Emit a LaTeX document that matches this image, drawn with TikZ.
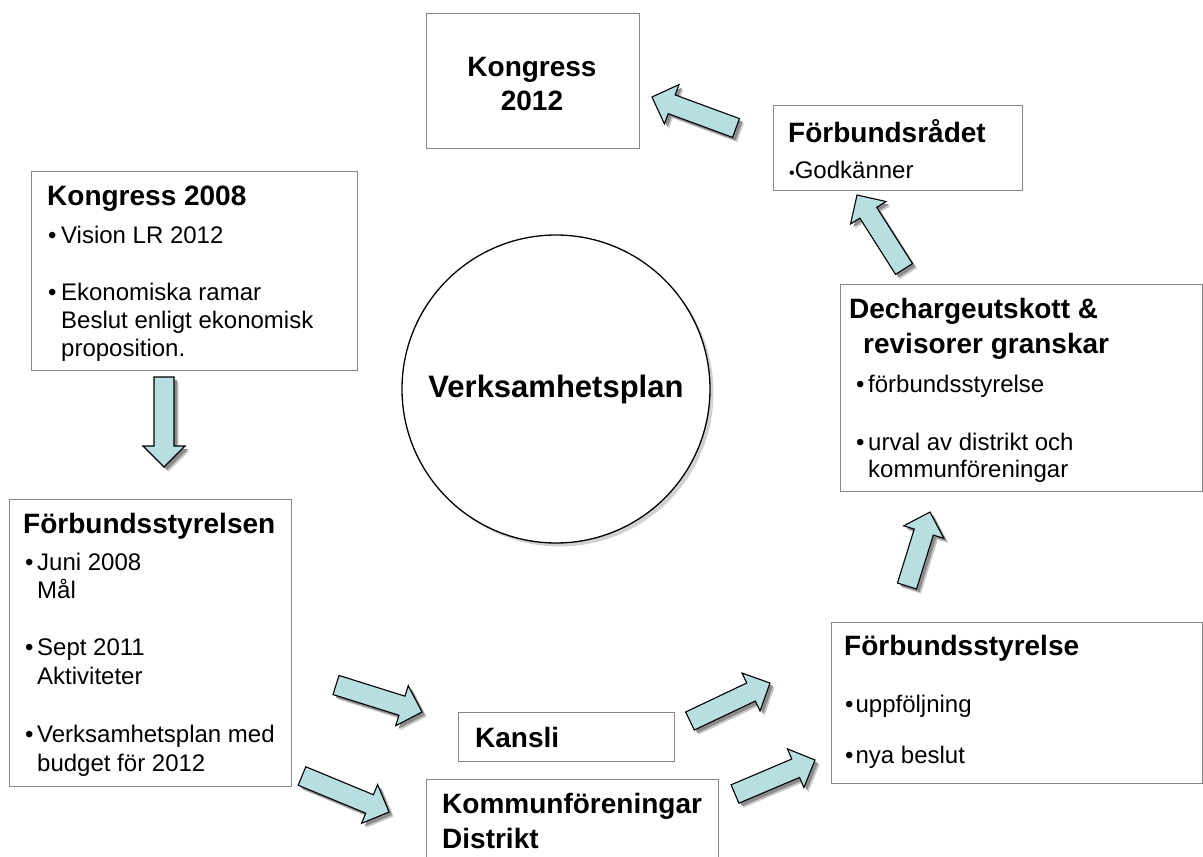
\documentclass[tikz,border=0pt]{standalone}
\usepackage{fontspec}
\setmainfont{Liberation Sans}
\usetikzlibrary{calc}
\definecolor{boxgray}{RGB}{134,134,134}
\definecolor{arrowfill}{RGB}{183,223,226}
\tikzset{
  box/.style={draw=boxgray, line width=1.3pt, inner sep=0pt, anchor=north west},
  ttl/.style={font=\fontsize{28}{33}\selectfont\bfseries, inner sep=0pt, anchor=base west},
  txt/.style={font=\fontsize{24}{29}\selectfont, inner sep=0pt, anchor=base west},
  fatline/.style={draw=black, line width=1.1pt, fill=arrowfill, line join=miter},
  fatshadow/.style={fill=black!45},
  fatshadowsoft/.style={fill=black!22},
}
% block arrow from tail centre #1 to tip #2
\newcommand\fatpoly{(0,-10) -- ({\fatlen-21},-10) -- ({\fatlen-21},-21) -- (\fatlen,0)
  -- ({\fatlen-21},21) -- ({\fatlen-21},10) -- (0,10) -- cycle}
\newcommand\fatarrow[2]{%
  \path let \p1=($(#2)-(#1)$), \n1={atan2(\y1,\x1)}, \n2={veclen(\x1,\y1)} in
    \pgfextra{\xdef\fatang{\n1}\xdef\fatlen{\n2}};
  \begin{scope}[shift={($(#1)+(4.5pt,-4.5pt)$)}, rotate=\fatang]
    \path[fatshadowsoft] \fatpoly;
  \end{scope}
  \begin{scope}[shift={($(#1)+(3pt,-3pt)$)}, rotate=\fatang]
    \path[fatshadow] \fatpoly;
  \end{scope}
  \begin{scope}[shift={(#1)}, rotate=\fatang]
    \path[fatline] \fatpoly;
  \end{scope}}
\begin{document}
\begin{tikzpicture}[x=1pt, y=-1pt]
\useasboundingbox (0,0) rectangle (1203,857);
\clip (0,0) rectangle (1203,857);

% boxes
\node[box, minimum width=213pt, minimum height=135pt] (k2012) at (426,13) {};
\node[box, minimum width=249pt, minimum height=85pt] (frad) at (773,105) {};
\node[box, minimum width=326pt, minimum height=199pt] (k2008) at (31,171) {};
\node[box, minimum width=362pt, minimum height=207pt] (dech) at (840,284) {};
\node[box, minimum width=282pt, minimum height=287pt] (fsen) at (9,499) {};
\node[box, minimum width=371pt, minimum height=161pt] (fs) at (831,622) {};
\node[box, minimum width=216pt, minimum height=49pt] (kansli) at (458,712) {};
\node[box, minimum width=292pt, minimum height=110pt] (kommun) at (426,779) {};

% circle with a soft shadow
\node[circle, fill=black!18, minimum size=308pt, inner sep=0pt] (vps) at (559.5,392.5) {};
\node[circle, draw=black, fill=white, line width=1.3pt, minimum size=308pt, inner sep=0pt,
      font=\fontsize{31}{36}\selectfont\bfseries] (vp) at (556,389) {Verksamhetsplan};

% Kongress 2012
\node[ttl, anchor=base] (k2012a) at (532,76) {Kongress};
\node[ttl, anchor=base] (k2012b) at (532,110) {2012};

% Förbundsrådet
\node[ttl] (fradt) at (788,142) {Förbundsrådet};
\node[txt] (frad1) at (789,178) {{\fontsize{16}{16}\selectfont •}Godkänner};

% Kongress 2008
\node[ttl] (k2008t) at (47,205) {Kongress 2008};
\node[txt] (k2008a) at (48,243) {•\hspace{4.5pt}Vision LR 2012};
\node[txt] (k2008b) at (48,300) {•\hspace{4.5pt}Ekonomiska ramar};
\node[txt] (k2008c) at (61,328) {Beslut enligt ekonomisk};
\node[txt] (k2008d) at (61,356) {proposition.};

% Dechargeutskott
\node[ttl] (decht1) at (849,318) {Dechargeutskott \&};
\node[ttl] (decht2) at (863,353) {revisorer granskar};
\node[txt] (dech1) at (856,392) {•\hspace{3.6pt}förbundsstyrelse};
\node[txt] (dech2) at (856,450) {•\hspace{3.6pt}urval av distrikt och};
\node[txt] (dech3) at (868,477) {kommunföreningar};

% Förbundsstyrelsen (left)
\node[ttl] (fsent) at (23,533) {Förbundsstyrelsen};
\node[txt] (fsen1) at (25,570) {•\hspace{3.6pt}Juni 2008};
\node[txt] (fsen2) at (37,598) {Mål};
\node[txt] (fsen3) at (25,655) {•\hspace{3.6pt}Sept 2011};
\node[txt] (fsen4) at (37,684) {Aktiviteter};
\node[txt] (fsen5) at (25,742) {•\hspace{3.6pt}Verksamhetsplan med};
\node[txt] (fsen6) at (37,771) {budget för 2012};

% Förbundsstyrelse (right)
\node[ttl] (fst) at (844,655) {Förbundsstyrelse};
\node[txt] (fs1) at (845,712) {•\hspace{2pt}uppföljning};
\node[txt] (fs2) at (845,763) {•\hspace{2pt}nya beslut};

% Kansli, Kommunföreningar
\node[ttl] (kanslit) at (475,747) {Kansli};
\node[ttl] (kommunt1) at (442,813) {Kommunföreningar};
\node[ttl] (kommunt2) at (442,848) {Distrikt};

% arrow end points
\coordinate (a1t) at (736,128); \coordinate (a1h) at (652,97);
\coordinate (a2t) at (164,377); \coordinate (a2h) at (164,467);
\coordinate (a3t) at (336,685); \coordinate (a3h) at (422,712);
\coordinate (a4t) at (302,776); \coordinate (a4h) at (389,812);
\coordinate (a5t) at (690,721); \coordinate (a5h) at (770,683);
\coordinate (a6t) at (735,794); \coordinate (a6h) at (815,760);
\coordinate (a7t) at (907,586); \coordinate (a7h) at (930,512);
\coordinate (a8t) at (904,269); \coordinate (a8h) at (857,195);

\fatarrow{a1t}{a1h}
\fatarrow{a2t}{a2h}
\fatarrow{a3t}{a3h}
\fatarrow{a4t}{a4h}
\fatarrow{a5t}{a5h}
\fatarrow{a6t}{a6h}
\fatarrow{a7t}{a7h}
\fatarrow{a8t}{a8h}
\end{tikzpicture}
\end{document}
